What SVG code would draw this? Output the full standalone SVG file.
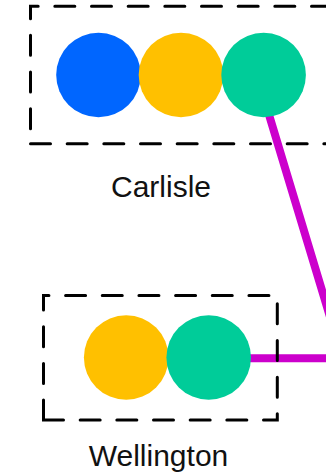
<svg xmlns="http://www.w3.org/2000/svg" width="326" height="476" viewBox="0 0 326 476">
  <style>
    .box { fill: none; stroke: #000; stroke-width: 3; stroke-dasharray: 20 16.667; stroke-linecap: round; stroke-linejoin: miter; }
    .lbl { font-family: "Liberation Sans", Arial, sans-serif; font-size: 30px; fill: #111; text-anchor: middle; }
    .blue { fill: #0066FF; }
    .yellow { fill: #FFC000; }
    .green { fill: #00CC99; }
    .link { fill: none; stroke: #CC00CC; stroke-width: 8; stroke-linejoin: miter; }
  </style>
  <rect width="326" height="476" fill="#fff"/>
  <g id="connectors">
    <path class="link" d="M257,75 L342.5,358.3 L209,358.3"/>
  </g>
  <g id="carlisle">
    <path class="box" d="M30.5,143.7 H332.3 V6.3 H30.5 Z"/>
    <circle class="blue" cx="98.5" cy="75" r="42.3"/>
    <circle class="yellow" cx="181" cy="75" r="42.3"/>
    <circle class="green" cx="263.6" cy="75" r="42.3"/>
    <text class="lbl" x="161" y="196.5">Carlisle</text>
  </g>
  <g id="wellington">
    <path class="box" d="M43.5,420 H277.3 V295.5 H43.5 Z"/>
    <circle class="yellow" cx="126.2" cy="357.5" r="42.3"/>
    <circle class="green" cx="208.7" cy="357.5" r="42.3"/>
    <text class="lbl" x="158.5" y="466">Wellington</text>
  </g>
</svg>
